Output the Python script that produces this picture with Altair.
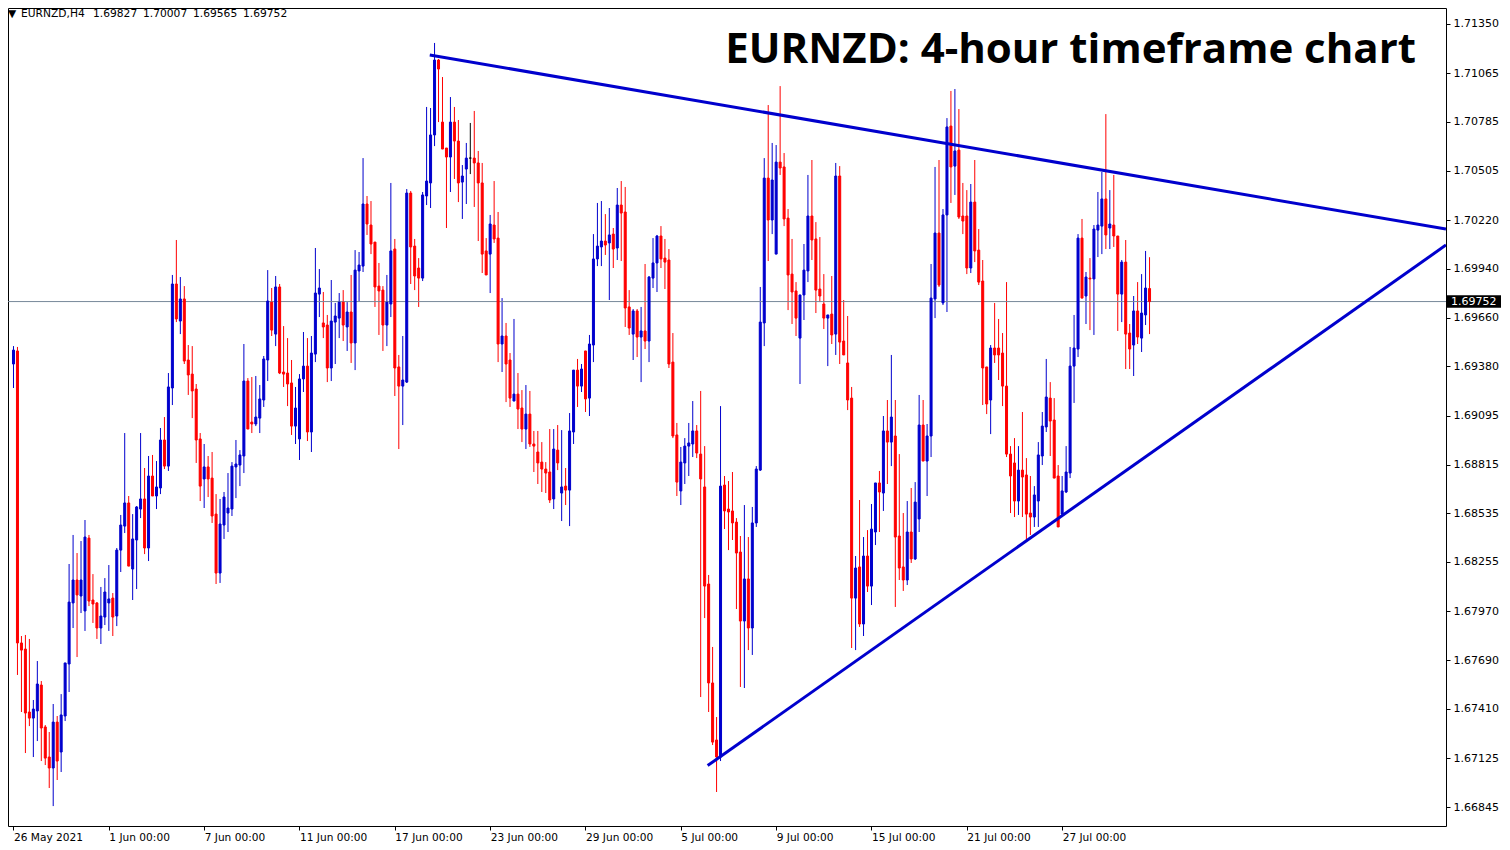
import altair as alt
import pandas as pd

# ---- candle data (EURNZD H4), bar 0 = 26 May 2021 00:00 ----
OPEN = [1.69393,1.69468,1.67789,1.67754,1.67392,1.67357,1.67398,1.67547,1.67306,1.67133,
1.67070,1.67334,1.67162,1.67369,1.67668,1.68019,1.68151,1.68059,1.67973,1.68392,
1.68036,1.68019,1.67875,1.67938,1.68019,1.68047,1.67944,1.68323,1.68461,1.68594,
1.68214,1.68381,1.68559,1.68617,1.68335,1.68749,1.68634,1.68680,1.68956,1.68806,
1.69255,1.69853,1.69640,1.69767,1.69416,1.69335,1.69249,1.68962,1.68732,1.68801,
1.68737,1.68530,1.68191,1.68467,1.68536,1.68559,1.68801,1.68812,1.68864,1.69295,
1.69059,1.69048,1.69082,1.69186,1.69416,1.69749,1.69565,1.69836,1.69347,1.69341,
1.69284,1.69036,1.68962,1.69307,1.69381,1.69002,1.69450,1.69795,1.69629,1.69617,
1.69370,1.69634,1.69657,1.69749,1.69606,1.69692,1.69514,1.69928,1.69956,1.70313,
1.70192,1.70094,1.69841,1.69818,1.69617,1.69738,1.70054,1.69376,1.69266,1.69289,
1.70376,1.70071,1.69945,1.69887,1.70359,1.70434,1.70710,1.71141,1.70784,1.70635,
1.70583,1.70784,1.70675,1.70439,1.70514,1.70577,1.70577,1.70549,1.70434,1.70043,
1.70025,1.70192,1.70117,1.69508,1.69554,1.69416,1.69180,1.69220,1.69140,1.69019,
1.69105,1.68933,1.68887,1.68829,1.68789,1.68772,1.68617,1.68898,1.68651,1.68691,
1.68668,1.69002,1.69358,1.69266,1.69468,1.69197,1.69502,1.69997,1.70066,1.70100,
1.70089,1.70140,1.70060,1.70307,1.70267,1.69721,1.69565,1.69698,1.69548,1.69583,
1.69525,1.69887,1.69974,1.70129,1.70002,1.69991,1.69404,1.68985,1.68663,1.68824,
1.68921,1.68933,1.69008,1.68875,1.68686,1.68128,1.67559,1.67231,1.67133,1.68697,
1.68559,1.68548,1.68484,1.68312,1.67915,1.68157,1.67875,1.68479,1.68783,1.69629,
1.70462,1.70221,1.70025,1.70554,1.70526,1.70232,1.69910,1.69813,1.69542,1.69790,
1.69928,1.70244,1.70112,1.69824,1.69738,1.69657,1.69680,1.69565,1.70474,1.69525,
1.69399,1.69197,1.68047,1.68226,1.67898,1.68289,1.68116,1.68427,1.68709,1.68651,
1.69008,1.68944,1.68979,1.68404,1.68226,1.68151,1.68427,1.68272,1.68502,1.69042,
1.68835,1.68979,1.69767,1.70146,1.69744,1.70250,1.70761,1.70531,1.70623,1.70244,
1.70244,1.69945,1.70324,1.70048,1.69870,1.69376,1.69186,1.69485,1.69485,1.69456,
1.69266,1.68875,1.68824,1.68605,1.68783,1.68755,1.68536,1.68513,1.68605,1.68864,
1.69031,1.69197,1.69071,1.68749,1.68530,1.68657,1.68766,1.69381,1.69479,1.70117,
1.69784,1.69887,1.69882,1.70163,1.70186,1.70342,1.70175,1.70192,1.70129,1.69795,
1.69979,1.69571,1.69502,1.69698,1.69542,1.69675,1.69827]

HIGH = [1.69496,1.69491,1.67829,1.67835,1.67812,1.67461,1.67685,1.67570,1.67317,1.67277,
1.67438,1.67369,1.67495,1.67674,1.68243,1.68410,1.68306,1.68375,1.68496,1.68410,
1.68185,1.68024,1.68111,1.68162,1.68237,1.68076,1.68335,1.68525,1.68996,1.68634,
1.68530,1.68576,1.68996,1.68795,1.68864,1.68870,1.68835,1.69025,1.69088,1.69341,
1.69905,1.70106,1.69893,1.69841,1.69502,1.69496,1.69278,1.68996,1.68933,1.68864,
1.68887,1.68645,1.68617,1.68657,1.68766,1.68829,1.68956,1.68898,1.69508,1.69312,
1.69318,1.69324,1.69272,1.69439,1.69933,1.69830,1.69899,1.69853,1.69611,1.69542,
1.69416,1.69261,1.69335,1.69577,1.69542,1.69554,1.70060,1.69939,1.69807,1.69675,
1.69876,1.69744,1.69801,1.69818,1.69749,1.69905,1.70048,1.70037,1.70577,1.70359,
1.70330,1.70094,1.69974,1.69841,1.69905,1.70434,1.70112,1.69445,1.69554,1.70399,
1.70388,1.70112,1.70002,1.70382,1.70871,1.70865,1.71239,1.71147,1.71043,1.70635,
1.70928,1.70871,1.70796,1.70537,1.70664,1.70779,1.70848,1.70618,1.70549,1.70117,
1.70250,1.70445,1.70267,1.69772,1.69629,1.69456,1.69652,1.69341,1.69243,1.69272,
1.69238,1.69008,1.69008,1.68944,1.68829,1.69019,1.69019,1.69042,1.69013,1.68795,
1.69111,1.69358,1.69422,1.69393,1.69468,1.69560,1.70140,1.70319,1.70330,1.70255,
1.70290,1.70175,1.70405,1.70445,1.70411,1.69818,1.69709,1.69709,1.69721,1.69968,
1.69899,1.70117,1.70135,1.70186,1.70112,1.70054,1.69571,1.69054,1.68916,1.68967,
1.69054,1.69180,1.69042,1.69238,1.68921,1.68180,1.67766,1.67363,1.69151,1.68749,
1.68720,1.68772,1.68507,1.68404,1.68582,1.68398,1.68571,1.68806,1.69836,1.70577,
1.70882,1.70664,1.70652,1.70991,1.70606,1.70284,1.70112,1.69864,1.69790,1.70083,
1.70480,1.70566,1.70209,1.70123,1.69910,1.69675,1.69899,1.70549,1.70531,1.69761,
1.69669,1.69261,1.68289,1.68611,1.68398,1.68438,1.68588,1.68709,1.68778,1.69094,
1.69186,1.69445,1.69186,1.68875,1.68536,1.68605,1.68680,1.68714,1.69215,1.69186,
1.69048,1.69968,1.70526,1.70566,1.70284,1.70807,1.70963,1.70974,1.70859,1.70434,
1.70393,1.70428,1.70566,1.70169,1.69991,1.69376,1.69502,1.69744,1.69652,1.69571,
1.69864,1.68921,1.68967,1.68921,1.69117,1.68852,1.68749,1.68691,1.68944,1.69117,
1.69422,1.69289,1.69197,1.68812,1.68749,1.68921,1.69491,1.69675,1.70140,1.70227,
1.69922,1.70002,1.70192,1.70382,1.70497,1.70830,1.70393,1.70480,1.70129,1.69991,
1.70106,1.69623,1.69784,1.69864,1.69910,1.70043,1.70007]

LOW = [1.69255,1.67605,1.67392,1.67156,1.67311,1.67133,1.67225,1.67110,1.67087,1.66955,
1.66851,1.67001,1.67047,1.67340,1.67507,1.67875,1.67708,1.67961,1.67858,1.68001,
1.67904,1.67812,1.67783,1.67892,1.67858,1.67829,1.67886,1.68197,1.68421,1.68231,
1.68036,1.68099,1.68507,1.68300,1.68260,1.68634,1.68559,1.68645,1.68789,1.68778,
1.69157,1.69634,1.69565,1.69393,1.69215,1.69082,1.68824,1.68605,1.68565,1.68628,
1.68479,1.68128,1.68134,1.68387,1.68427,1.68519,1.68622,1.68691,1.68766,1.69019,
1.68996,1.69036,1.68996,1.69146,1.69295,1.69554,1.69496,1.69335,1.69261,1.69151,
1.68985,1.68933,1.68841,1.69232,1.68950,1.68887,1.69404,1.69663,1.69542,1.69289,
1.69295,1.69393,1.69542,1.69525,1.69468,1.69399,1.69358,1.69755,1.69922,1.70135,
1.70025,1.69721,1.69560,1.69468,1.69496,1.69663,1.69209,1.68904,1.69042,1.69284,
1.69853,1.69818,1.69721,1.69870,1.70307,1.70290,1.70646,1.70784,1.70629,1.70175,
1.70382,1.70457,1.70324,1.70227,1.70313,1.70485,1.70296,1.70100,1.69916,1.69905,
1.69801,1.70089,1.69404,1.69347,1.69174,1.69146,1.69180,1.69019,1.68944,1.68904,
1.68916,1.68772,1.68703,1.68657,1.68651,1.68594,1.68559,1.68783,1.68490,1.68582,
1.68461,1.68933,1.69146,1.69232,1.69117,1.69094,1.69404,1.69956,1.69956,1.70020,
1.69761,1.69945,1.69991,1.69985,1.69606,1.69560,1.69416,1.69433,1.69289,1.69479,
1.69404,1.69830,1.69807,1.69945,1.69824,1.69370,1.68967,1.68634,1.68582,1.68703,
1.68749,1.68858,1.68852,1.67478,1.67932,1.67392,1.67202,1.66932,1.67110,1.68444,
1.68323,1.68381,1.67984,1.67536,1.67530,1.67748,1.67720,1.68456,1.68778,1.69496,
1.69985,1.70140,1.70025,1.70480,1.70186,1.69703,1.69623,1.69554,1.69278,1.69646,
1.69864,1.69991,1.69686,1.69749,1.69594,1.69381,1.69508,1.69445,1.69393,1.69445,
1.69128,1.67760,1.67748,1.67881,1.67829,1.68082,1.68007,1.68352,1.68427,1.68548,
1.68703,1.68806,1.67996,1.68151,1.68088,1.68122,1.68249,1.68266,1.68427,1.68835,
1.68634,1.68858,1.69657,1.69836,1.69732,1.69692,1.70319,1.70365,1.70227,1.70140,
1.69910,1.69916,1.69979,1.69847,1.69157,1.69105,1.68990,1.69399,1.69301,1.69151,
1.68858,1.68536,1.68513,1.68525,1.68513,1.68375,1.68410,1.68456,1.68456,1.68812,
1.69002,1.68864,1.68737,1.68456,1.68513,1.68651,1.68737,1.69169,1.69433,1.69772,
1.69623,1.69588,1.69560,1.70008,1.70025,1.70054,1.70054,1.70066,1.69583,1.69634,
1.69364,1.69364,1.69324,1.69508,1.69462,1.69617,1.69565]

CLOSE = [1.69473,1.67789,1.67748,1.67386,1.67357,1.67409,1.67553,1.67300,1.67127,1.67070,
1.67334,1.67110,1.67375,1.67674,1.68024,1.68151,1.68065,1.68151,1.68398,1.68030,
1.68013,1.67875,1.67944,1.68082,1.68042,1.67938,1.68323,1.68467,1.68594,1.68231,
1.68387,1.68571,1.68617,1.68335,1.68749,1.68634,1.68686,1.68956,1.68806,1.69261,
1.69853,1.69652,1.69767,1.69410,1.69330,1.69238,1.68956,1.68691,1.68801,1.68732,
1.68519,1.68191,1.68473,1.68628,1.68565,1.68806,1.68818,1.68870,1.69295,1.69019,
1.69048,1.69088,1.69192,1.69422,1.69755,1.69588,1.69836,1.69341,1.69335,1.69278,
1.69036,1.69140,1.69307,1.69381,1.69002,1.69456,1.69801,1.69830,1.69606,1.69370,
1.69640,1.69669,1.69749,1.69617,1.69692,1.69514,1.69933,1.69962,1.70313,1.70198,
1.70083,1.69836,1.69813,1.69617,1.69749,1.70043,1.69370,1.69266,1.69301,1.70376,
1.70066,1.69899,1.69887,1.70365,1.70445,1.70710,1.71141,1.71089,1.70629,1.70583,
1.70784,1.70675,1.70434,1.70474,1.70577,1.70577,1.70549,1.70434,1.70025,1.69905,
1.70198,1.70112,1.69508,1.69554,1.69393,1.69197,1.69220,1.69134,1.69019,1.69105,
1.68933,1.68921,1.68824,1.68789,1.68766,1.68611,1.68904,1.68824,1.68686,1.68668,
1.69008,1.69358,1.69266,1.69364,1.69192,1.69508,1.69997,1.70071,1.70100,1.70077,
1.70135,1.70054,1.70307,1.70261,1.69715,1.69600,1.69698,1.69548,1.69583,1.69525,
1.69893,1.69974,1.70129,1.69997,1.69979,1.69393,1.68979,1.68714,1.68829,1.68921,
1.68939,1.69008,1.68881,1.68732,1.68116,1.67559,1.67219,1.67133,1.68691,1.68548,
1.68542,1.68479,1.68306,1.67915,1.68157,1.67875,1.68479,1.68789,1.69634,1.70462,
1.70221,1.70451,1.70554,1.70520,1.70227,1.69905,1.69807,1.69657,1.69790,1.69933,
1.70244,1.70106,1.69818,1.69784,1.69657,1.69675,1.69560,1.70474,1.69519,1.69445,
1.69186,1.68047,1.68220,1.67898,1.68289,1.68116,1.68444,1.68709,1.68657,1.69008,
1.68944,1.69088,1.68398,1.68220,1.68151,1.68427,1.68272,1.68599,1.69042,1.68835,
1.68979,1.69772,1.70146,1.69847,1.70250,1.70756,1.70526,1.70618,1.70238,1.70215,
1.69945,1.70324,1.70043,1.69864,1.69370,1.69163,1.69485,1.69445,1.69445,1.69266,
1.68875,1.68749,1.68605,1.68783,1.68743,1.68530,1.68513,1.68640,1.68870,1.69036,
1.69203,1.69065,1.68737,1.68456,1.68663,1.68772,1.69381,1.69485,1.70117,1.69772,
1.69893,1.69882,1.70169,1.70192,1.70342,1.70135,1.70198,1.70129,1.69795,1.69979,
1.69565,1.69479,1.69698,1.69548,1.69686,1.69830,1.69752]

# date labels on the time axis and the bar they sit on (6 bars per trading day)
DATE_LABELS = ["26 May 2021", "1 Jun 00:00", "7 Jun 00:00", "11 Jun 00:00", "17 Jun 00:00",
               "23 Jun 00:00", "29 Jun 00:00", "5 Jul 00:00", "9 Jul 00:00", "15 Jul 00:00",
               "21 Jul 00:00", "27 Jul 00:00"]
DATE_LABEL_BARS = [0, 24, 48, 72, 96, 120, 144, 168, 192, 216, 240, 264]

PRICE_TICKS = [1.71350, 1.71065, 1.70785, 1.70505, 1.70220, 1.69940, 1.69660, 1.69380,
               1.69095, 1.68815, 1.68535, 1.68255, 1.67970, 1.67690, 1.67410, 1.67125, 1.66845]

# drawn trend lines (bar index, price)
UPPER_BARS = [104.8, 360.625]
UPPER_PRICES = [1.71170, 1.70169]
LOWER_BARS = [174.75, 360.625]
LOWER_PRICES = [1.67084, 1.70077]

SYMBOL = "EURNZD,H4"
TITLE = "EURNZD: 4-hour timeframe chart"

# ---------------------------------------------------------------
n = len(CLOSE)
df = pd.DataFrame({"bar": list(range(n)), "o": OPEN, "h": HIGH, "l": LOW, "c": CLOSE})
df["dir"] = ["up" if c > o else ("down" if c < o else "doji") for o, c in zip(OPEN, CLOSE)]

BLUE = "#0000CD"
RED = "#FF0000"
W, H = 1438, 818
FONT = "DejaVu Sans"

xscale = alt.Scale(domain=[-0.125, 359.375], nice=False, zero=False)
yscale = alt.Scale(domain=[1.667365, 1.71440], nice=False, zero=False)
cscale = alt.Scale(domain=["up", "down", "doji"], range=[BLUE, RED, "#000000"])

label_expr = "[" + ",".join("'" + s + "'" for s in DATE_LABELS) + "][round(datum.value/24)]"

xaxis = alt.Axis(values=DATE_LABEL_BARS, labelExpr=label_expr, orient="bottom", grid=False,
                 domain=False, tickSize=4, tickColor="black", labelAlign="left",
                 labelBaseline="top", labelPadding=2, labelColor="black", labelFontSize=10.6,
                 labelFont=FONT, labelOverlap=False, labelBound=False, labelFlush=False,
                 title="")
yaxis = alt.Axis(values=PRICE_TICKS, format=".5f", orient="right", grid=False, domain=False,
                 tickSize=4, tickColor="black", labelPadding=3, labelColor="black",
                 labelFontSize=11, labelFont=FONT, labelOverlap=False,
                 labelBound=False, labelFlush=False, title="")


def X(field):
    return alt.X(field, scale=xscale, axis=xaxis)


def Y(field):
    return alt.Y(field, scale=yscale, axis=yaxis)


base = alt.Chart(df)

wicks = base.mark_rule(strokeWidth=1, clip=True).encode(
    x=X("bar:Q"), y=Y("l:Q"), y2="h:Q",
    color=alt.Color("dir:N", scale=cscale, legend=None),
)

bodies = base.mark_bar(size=2, strokeWidth=1, clip=True).encode(
    x=X("bar:Q"), y=Y("o:Q"), y2="c:Q",
    color=alt.Color("dir:N", scale=cscale, legend=None),
    stroke=alt.Stroke("dir:N", scale=cscale, legend=None),
)

last = pd.DataFrame({"p": [CLOSE[-1]], "t": [f"{CLOSE[-1]:.5f}"]})
bid_line = alt.Chart(last).mark_rule(color="#778899", strokeWidth=1).encode(y=Y("p:Q"))

trend_df = pd.DataFrame({
    "bar": UPPER_BARS + LOWER_BARS,
    "p": UPPER_PRICES + LOWER_PRICES,
    "line": ["upper"] * len(UPPER_BARS) + ["lower"] * len(LOWER_BARS),
})
trends = alt.Chart(trend_df).mark_line(color=BLUE, strokeWidth=3, clip=True).encode(
    x=X("bar:Q"), y=Y("p:Q"), detail="line:N",
)

price_box = alt.Chart(last).mark_point(
    shape="M-1,-0.23H1V0.23H-1Z", size=2916, filled=True, color="black", opacity=1,
    strokeWidth=0
).encode(x=alt.value(1466), y=Y("p:Q"))

price_text = alt.Chart(last).mark_text(
    align="left", baseline="middle", color="white", fontSize=11, font=FONT
).encode(x=alt.value(1443), y=Y("p:Q"), text="t:N")

# header line (symbol, timeframe, O H L C of the last bar)
head_items = ["\u25BC", SYMBOL] + [f"{v:.5f}" for v in (OPEN[-1], HIGH[-1], LOW[-1], CLOSE[-1])]
head_df = pd.DataFrame({"t": head_items, "px": [0, 13, 85, 135, 185, 235]})
header_text = alt.Chart(head_df).mark_text(
    align="left", baseline="alphabetic", color="black", fontSize=10.7, font=FONT
).encode(x=alt.X("px:Q", scale=None), y=alt.value(8.5), text="t:N")

title_text = alt.Chart(pd.DataFrame({"t": [TITLE]})).mark_text(
    align="right", baseline="alphabetic", color="black", fontSize=42, font="Open Sans",
    fontWeight="bold"
).encode(x=alt.value(1408), y=alt.value(55), text="t:N")

chart = alt.layer(
    wicks, bid_line, bodies, trends, price_box, price_text, header_text, title_text
).properties(
    width=W, height=H,
    padding={"left": 0, "top": 0, "right": 56, "bottom": 20},
    autosize=alt.AutoSizeParams(type="none"),
    background="white",
).configure_view(stroke="black", strokeWidth=1)

chart.save("out.html", embed_options={"renderer": "svg", "actions": False})
